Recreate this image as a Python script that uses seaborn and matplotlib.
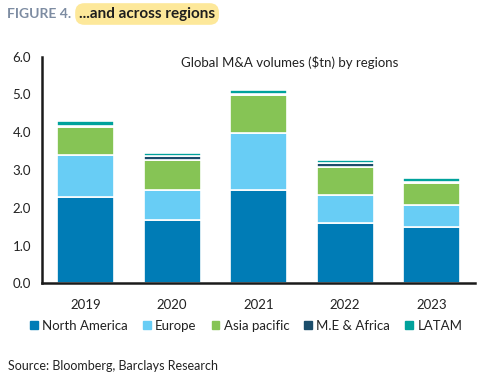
import numpy as np
import pandas as pd
import matplotlib
matplotlib.use("Agg")
import matplotlib.pyplot as plt
import seaborn as sns
from matplotlib.ticker import FixedLocator

years = ["2019", "2020", "2021", "2022", "2023"]
north_america = [2.29, 1.68, 2.47, 1.59, 1.50]
europe = [1.11, 0.79, 1.51, 0.75, 0.58]
asia_pacific = [0.74, 0.80, 1.01, 0.745, 0.57]
me_africa = [0.03, 0.105, 0.01, 0.105, 0.04]
latam = [0.13, 0.07, 0.12, 0.08, 0.10]

series_names = ["North America", "Europe", "Asia pacific", "M.E & Africa", "LATAM"]
series_vals = [north_america, europe, asia_pacific, me_africa, latam]
colors = ["#007cb6", "#68cdf5", "#86c455", "#1b4d6b", "#00a29c"]

sns.set_style("white")
FONT = ["Lato", "DejaVu Sans"]
plt.rcParams["font.family"] = FONT
TXT = "#222222"

fig = plt.figure(figsize=(4.85, 3.82), dpi=100)
ax = fig.add_axes([0.0872, 0.2584, 0.8918, 0.5932])

bottom = np.zeros(len(years))
for name, vals, col in zip(series_names, series_vals, colors):
    df = pd.DataFrame({"year": years, "value": vals})
    sns.barplot(data=df, x="year", y="value", color=col, width=0.66,
                bottom=bottom.copy(), edgecolor="white", linewidth=1.2,
                ax=ax, label=name, saturation=1)
    bottom += np.array(vals)

ax.set_xlim(-0.5, 4.5)
ax.set_ylim(0, 6.0)
ax.set_yticks(np.arange(0, 6.01, 1.0))
ax.set_yticklabels([f"{v:.1f}" for v in np.arange(0, 6.01, 1.0)])
ax.set_xlabel("")
ax.set_ylabel("")
ax.xaxis.set_minor_locator(FixedLocator(np.arange(-0.5, 4.6, 1.0)))
ax.tick_params(axis="x", which="major", length=0, pad=11, labelsize=9.5, labelcolor=TXT)
ax.tick_params(axis="x", which="minor", length=5, width=1.8, color="#1a1a1a", direction="out")
ax.tick_params(axis="y", which="major", length=5, width=1.8, color="#1a1a1a",
               direction="out", labelsize=9.5, labelcolor=TXT, pad=3)
for s in ["top", "right"]:
    ax.spines[s].set_visible(False)
for s in ["left", "bottom"]:
    ax.spines[s].set_color("#1a1a1a")
    ax.spines[s].set_linewidth(1.8)

ax.text(0.571, 0.975, "Global M&A volumes ($tn) by regions", transform=ax.transAxes,
        ha="center", va="center", fontsize=9.5, color=TXT)
if ax.legend_:
    ax.legend_.remove()

handles = [plt.Rectangle((0, 0), 1, 1, color=c) for c in colors]
fig.legend(handles, series_names, loc="center", bbox_to_anchor=(0.508, 0.147),
           ncol=5, frameon=False, fontsize=9.5, handlelength=0.55, handleheight=0.55,
           handletextpad=0.35, columnspacing=1.15, labelcolor=TXT)

fig.text(8 / 485, 1 - 366 / 382, "Source: Bloomberg, Barclays Research", ha="left",
         va="center", fontsize=9, color=TXT)
fig.text(7 / 485, 1 - 14 / 382, "FIGURE 4.", ha="left", va="center", fontsize=10,
         fontweight="bold", color="#7d8ca2")
fig.text(79 / 485, 1 - 14 / 382, "...and across regions", ha="left", va="center",
         fontsize=11, fontweight="bold", color="#1e1e1e",
         bbox=dict(boxstyle="round,pad=0.25,rounding_size=0.6", fc="#fde89a", ec="none"))

fig.savefig("out.png", dpi=100)
